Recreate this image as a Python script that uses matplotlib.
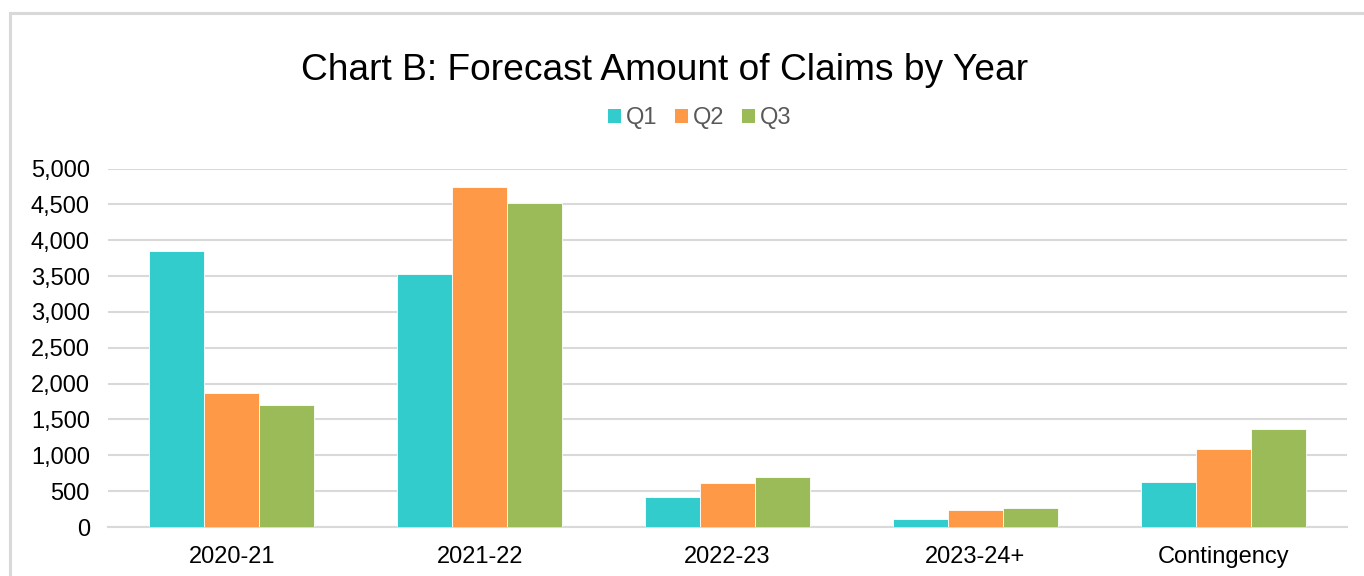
import matplotlib
matplotlib.use("Agg")
import matplotlib.pyplot as plt
from matplotlib.patches import Rectangle, Patch
import numpy as np

plt.rcParams['font.family'] = ['Liberation Sans', 'DejaVu Sans']

categories = ["2020-21", "2021-22", "2022-23", "2023-24+", "Contingency"]
series_names = ["Q1", "Q2", "Q3"]
q1 = [3845, 3530, 418, 110, 628]
q2 = [1865, 4740, 614, 237, 1088]
q3 = [1703, 4520, 692, 260, 1362]
colors = ["#33CCCC", "#FD9947", "#9BBB59"]
yticks = [0, 500, 1000, 1500, 2000, 2500, 3000, 3500, 4000, 4500, 5000]

W, H = 1364, 576
fig = plt.figure(figsize=(W / 100, H / 100), dpi=100)
fig.patch.set_facecolor("white")

# outer chart border
fig.patches.append(Rectangle((10 / W, -0.1), 1.2, 1 - 13 / H + 0.1, transform=fig.transFigure,
                             fill=False, edgecolor="#D9D9D9", linewidth=2.2))

ax = fig.add_axes([108 / W, 1 - 527 / H, (1347 - 108) / W, (527 - 168.5) / H])
x = np.arange(len(categories))
bw = 0.222
for i, (vals, c) in enumerate(zip([q1, q2, q3], colors)):
    ax.bar(x + (i - 1) * bw, vals, width=bw, color=c, edgecolor="white", linewidth=0.6, zorder=3)

ax.set_xlim(-0.5, len(categories) - 0.5)
ax.set_ylim(0, 5000)
ax.set_yticks(yticks)
ax.set_yticklabels([f"{v:,}" for v in yticks])
ax.set_xticks(x)
ax.set_xticklabels(categories)
ax.tick_params(axis="both", length=0, labelsize=17, colors="black")
ax.tick_params(axis="y", pad=13)
ax.tick_params(axis="x", pad=14)
ax.grid(axis="y", color="#D9D9D9", linewidth=1.5, zorder=0)
ax.set_axisbelow(True)
for s in ["top", "right", "left"]:
    ax.spines[s].set_visible(False)
ax.spines["bottom"].set_color("#D9D9D9")
ax.spines["bottom"].set_linewidth(1.5)

fig.text(665 / W, 1 - 70 / H, "Chart B: Forecast Amount of Claims by Year", ha="center", va="center",
         fontsize=26.7, color="black")

handles = [Patch(facecolor=c, edgecolor="none") for c in colors]
leg = fig.legend(handles, series_names, loc="center", bbox_to_anchor=(700 / W, 1 - 118 / H), ncol=3,
                 frameon=False, fontsize=17, handlelength=0.55, handleheight=0.55,
                 handletextpad=0.2, columnspacing=0.75, labelcolor="#595959")

fig.savefig("out.png", dpi=100)
